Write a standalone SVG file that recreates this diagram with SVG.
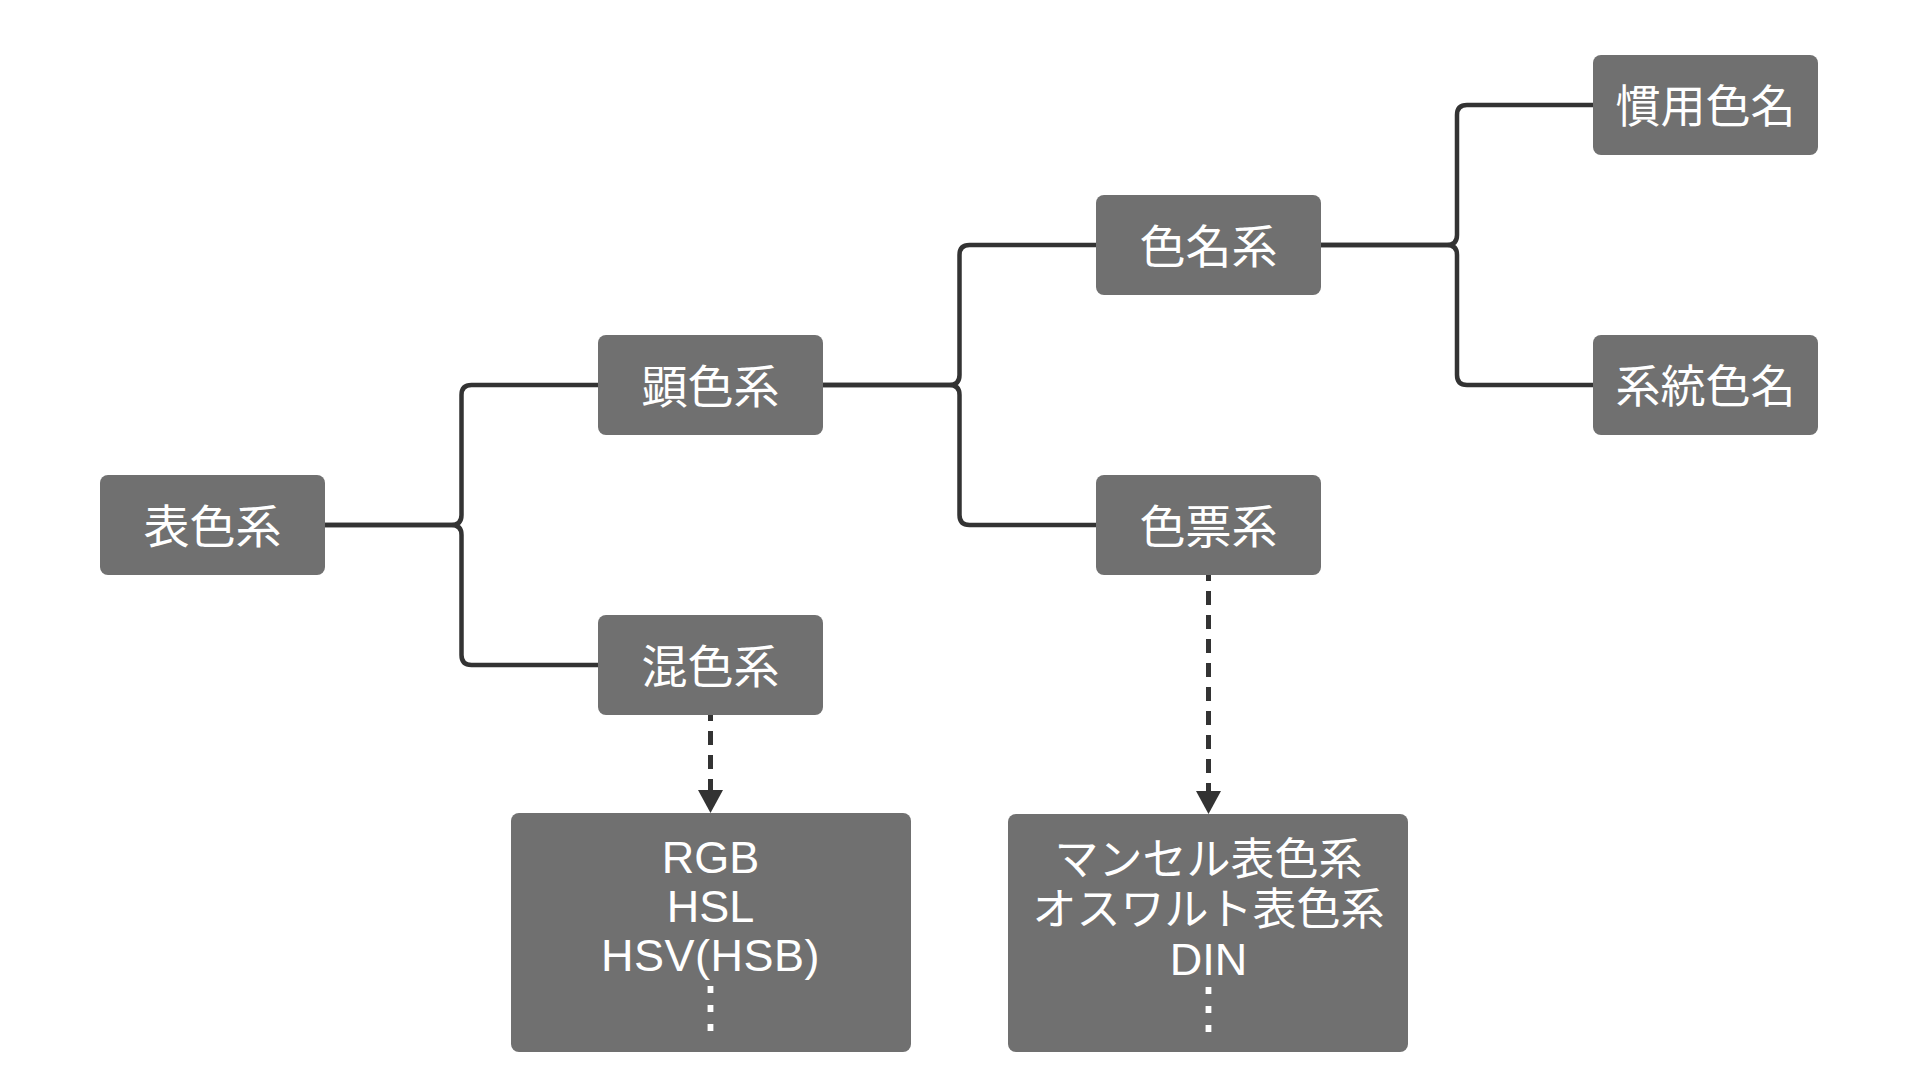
<svg xmlns="http://www.w3.org/2000/svg" width="1920" height="1080" viewBox="0 0 1920 1080">
<style>
.node rect{fill:#707070;}
.node text{fill:#ffffff;font-family:"Liberation Sans","Noto Sans CJK JP",sans-serif;font-size:46px;text-anchor:middle;}
.big text{font-size:44px;}
.big text.lat{font-size:45px;}
.big text.dots{font-size:55px;}
.edge{fill:none;stroke:#333333;stroke-width:4.5;}
.dash{fill:none;stroke:#333333;stroke-width:5;stroke-dasharray:14 10;}
</style>
<defs>
<marker id="arr" viewBox="0 0 23 25" refX="0" refY="12.5" markerWidth="23" markerHeight="25" markerUnits="userSpaceOnUse" orient="auto">
<path d="M0,0 L23,12.5 L0,25 Z" fill="#333333"/>
</marker>
</defs>
<rect width="1920" height="1080" fill="#ffffff"/>
<g id="connectors">
<path class="edge" d="M325,525 H451.5 Q461.5,525 461.5,515 V395 Q461.5,385 471.5,385 H598"/>
<path class="edge" d="M325,525 H451.5 Q461.5,525 461.5,535 V655 Q461.5,665 471.5,665 H598"/>
<path class="edge" d="M823,385 H949.5 Q959.5,385 959.5,375 V255 Q959.5,245 969.5,245 H1096"/>
<path class="edge" d="M823,385 H949.5 Q959.5,385 959.5,395 V515 Q959.5,525 969.5,525 H1096"/>
<path class="edge" d="M1321,245 H1447 Q1457,245 1457,235 V115 Q1457,105 1467,105 H1593"/>
<path class="edge" d="M1321,245 H1447 Q1457,245 1457,255 V375 Q1457,385 1467,385 H1593"/>
<path class="dash" d="M710.5,715 V790" stroke-dashoffset="8" marker-end="url(#arr)"/>
<path class="dash" d="M1208.5,575 V791" stroke-dashoffset="8" marker-end="url(#arr)"/>
</g>
<g id="n-hyoshokukei" class="node"><rect x="100" y="475" width="225" height="100" rx="8"/><text x="212.5" y="542.5">表色系</text></g>
<g id="n-kenshokukei" class="node"><rect x="598" y="335" width="225" height="100" rx="8"/><text x="710.5" y="402.5">顕色系</text></g>
<g id="n-konshokukei" class="node"><rect x="598" y="615" width="225" height="100" rx="8"/><text x="710.5" y="682.5">混色系</text></g>
<g id="n-shikimeikei" class="node"><rect x="1096" y="195" width="225" height="100" rx="8"/><text x="1208.5" y="262.5">色名系</text></g>
<g id="n-shikihyokei" class="node"><rect x="1096" y="475" width="225" height="100" rx="8"/><text x="1208.5" y="542.5">色票系</text></g>
<g id="n-kanyo" class="node"><rect x="1593" y="55" width="225" height="100" rx="8"/><text x="1705.5" y="122.5" style="font-size:45px">慣用色名</text></g>
<g id="n-keito" class="node"><rect x="1593" y="335" width="225" height="100" rx="8"/><text x="1705.5" y="402.5" style="font-size:45px">系統色名</text></g>
<g id="n-rgb" class="node big"><rect x="511" y="813" width="400" height="239" rx="8"/>
<text class="lat" x="710.5" y="873">RGB</text><text class="lat" x="710.5" y="922">HSL</text><text class="lat" x="710.5" y="971" style="letter-spacing:0.5px">HSV(HSB)</text><text class="dots" x="710.5" y="1026">⋮</text></g>
<g id="n-munsell" class="node big"><rect x="1008" y="814" width="400" height="238" rx="8"/>
<text x="1208.5" y="875">マンセル表色系</text><text x="1208.5" y="925">オスワルト表色系</text><text class="lat" x="1208.5" y="975">DIN</text><text class="dots" x="1208.5" y="1027">⋮</text></g>
</svg>
